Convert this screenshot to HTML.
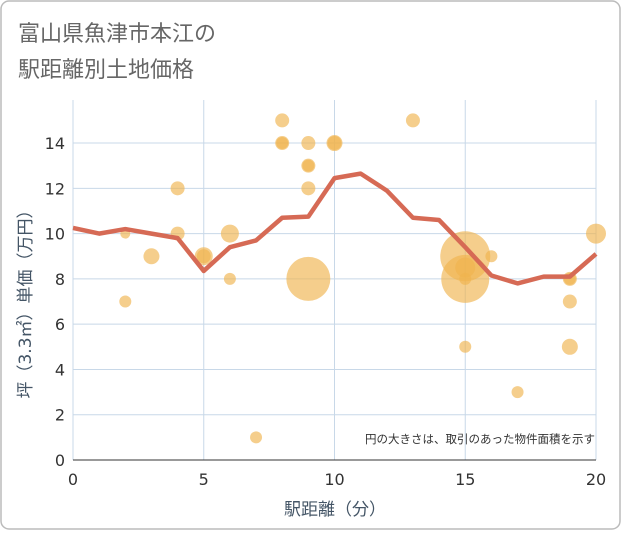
<!DOCTYPE html>
<html><head><meta charset="utf-8"><style>
body{margin:0;background:#fff;font-family:"Liberation Sans","Noto Sans CJK JP",sans-serif;}
#wrap{position:relative;width:621px;height:530px;}
</style></head><body>
<div id="wrap">
<svg id="chart" width="621" height="530" xmlns="http://www.w3.org/2000/svg">
<rect x="1" y="1" width="619" height="528" rx="8" fill="#fff" stroke="#bbb" stroke-width="1.5"/>
<text x="18" y="41" font-size="22" fill="#666">富山県魚津市本江の</text>
<text x="18" y="77" font-size="22" fill="#666">駅距離別土地価格</text>
<g id="grid"></g>
<g id="points"></g>
<g id="line"></g>
<g id="axes"></g>
<text x="595" y="443" font-size="11.5" fill="#333" text-anchor="end" font-family="DejaVu Sans, Noto Sans CJK JP, sans-serif">円の大きさは、取引のあった物件面積を示す</text>
<text x="335" y="515" font-size="17" fill="#456" text-anchor="middle" font-family="DejaVu Sans, Noto Sans CJK JP, sans-serif">駅距離（分）</text>
<text transform="translate(31,300) rotate(-90)" font-size="17" fill="#456" text-anchor="middle" font-family="DejaVu Sans, Noto Sans CJK JP, sans-serif">坪（3.3㎡）単価（万円）</text>
</svg>
</div>
<script>
const xTicks=[0,5,10,15,20];
const yTicks=[0,2,4,6,8,10,12,14];
const lineX=[0,1,2,3,4,5,6,7,8,9,10,11,12,13,14,15,16,17,18,19,20];
const lineY=[10.25,10,10.2,10,9.8,8.35,9.4,9.7,10.7,10.75,12.45,12.65,11.9,10.7,10.6,9.4,8.15,7.8,8.1,8.1,9.1];
const ptX=[2,2,3,4,4,5,5,6,6,7,8,8,8,9,9,9,9,9,10,10,13,15,15,15,15,15,16,17,19,19,19,19,20];
const ptY=[10,7,9,12,10,9,9,10,8,1,15,14,14,14,13,13,12,8,14,14,15,9,8,8.5,5,8,9,3,8,8,7,5,10];
const ptR=[5,6,8,7,7,9,7,9,6,6,7,7,6,7,7,6,7,22,8,7,7,25,24,10,6,6,6,6,7,6,7,8,10];
const X0=73,X1=596,Y0=460,Yscale=22.64;
const sx=v=>X0+(X1-X0)*v/20, sy=v=>Y0-v*Yscale;
const NS="http://www.w3.org/2000/svg";
function mk(t,p,a){const e=document.createElementNS(NS,t);for(const k in a)e.setAttribute(k,a[k]);p.appendChild(e);return e;}
const grid=document.getElementById('grid'),axes=document.getElementById('axes');
for(const v of xTicks){
 const l=mk('line',grid,{x1:sx(v),x2:sx(v),y1:100,y2:Y0,stroke:'#c8d8e8','stroke-width':1});
 
 
 const t=mk('text',axes,{x:sx(v),y:485,'font-size':16,fill:'#333','text-anchor':'middle','font-family':'DejaVu Sans, sans-serif'});t.textContent=v;
 
 
}
for(const v of yTicks){
 const l=mk('line',grid,{x1:X0,x2:X1,y1:sy(v),y2:sy(v),stroke:'#c8d8e8','stroke-width':1});
 
 
 const t=mk('text',axes,{x:65,y:sy(v)+6,'font-size':16,fill:'#333','text-anchor':'end','font-family':'DejaVu Sans, sans-serif'});t.textContent=v;
 
 
}
const bl=mk('line',axes,{x1:X0,x2:X1,y1:Y0,y2:Y0,stroke:'#333','stroke-width':1});


const pts=document.getElementById('points');
ptX.forEach((x,i)=>{
 const c=mk('circle',pts,{cx:sx(x),cy:sy(ptY[i]),r:ptR[i],fill:'#f0b44e','fill-opacity':0.65});
 
 
});
const d=lineX.map((x,i)=>(i?'L':'M')+sx(x)+' '+sy(lineY[i])).join(' ');
const p=mk('path',document.getElementById('line'),{d:d,fill:'none',stroke:'#d66a55','stroke-width':4.5,'stroke-linejoin':'round'});


</script>
</body></html>
